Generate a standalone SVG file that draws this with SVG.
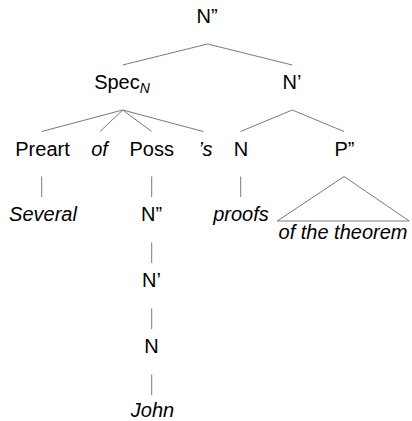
<svg xmlns="http://www.w3.org/2000/svg" width="412" height="421" viewBox="0 0 412 421">
  <style>
    text { font-family: "Liberation Sans", Arial, sans-serif; font-size: 20px; fill: #000; text-anchor: middle; }
    .it { font-style: italic; }
    .sub { font-size: 14px; font-style: italic; }
    .edge { stroke: #7a7a7a; stroke-width: 1; fill: none; }
  </style>
  <rect width="412" height="421" fill="#fff"/>

  <!-- tree branches -->
  <g id="connectors" class="edge">
    <path d="M207.5 44 L122.7 65 M207.5 44 L292.3 65"/>
    <path d="M122.7 110 L41.7 131.5 M122.7 110 L100 131.5 M122.7 110 L151.7 131.5 M122.7 110 L203.3 131.5"/>
    <path d="M292.3 110 L240.5 131.5 M292.3 110 L344 131.5"/>
    <path d="M41.7 176.5 V197 M151.7 176.5 V197 M240.7 176.5 V197"/>
    <path d="M151.7 242.5 V263 M151.7 308.5 V329 M151.7 374.5 V395"/>
    <polygon points="344,176.5 277.3,221 409.3,221"/>
  </g>

  <g id="n2-root"><text x="207" y="23">N”</text></g>
  <g id="spec-n"><text x="122" y="89">Spec<tspan class="sub" dy="4">N</tspan></text></g>
  <g id="n1"><text x="292" y="89">N’</text></g>
  <g id="preart"><text x="42.5" y="155.5">Preart</text></g>
  <g id="of"><text class="it" x="99.5" y="155.5">of</text></g>
  <g id="poss"><text x="151.7" y="155.5">Poss</text></g>
  <g id="apos-s"><text class="it" x="205.5" y="155.5">’s</text></g>
  <g id="n-head"><text x="241" y="155.5">N</text></g>
  <g id="p2"><text x="344.5" y="155.5">P”</text></g>
  <g id="several"><text class="it" x="43" y="221">Several</text></g>
  <g id="poss-n2"><text x="151.5" y="221">N”</text></g>
  <g id="proofs"><text class="it" x="241" y="221">proofs</text></g>
  <g id="of-the-theorem"><text class="it" x="343" y="239">of the theorem</text></g>
  <g id="poss-n1"><text x="151.5" y="287">N’</text></g>
  <g id="poss-n"><text x="151.5" y="353">N</text></g>
  <g id="john"><text class="it" x="152.5" y="416.5">John</text></g>
</svg>
